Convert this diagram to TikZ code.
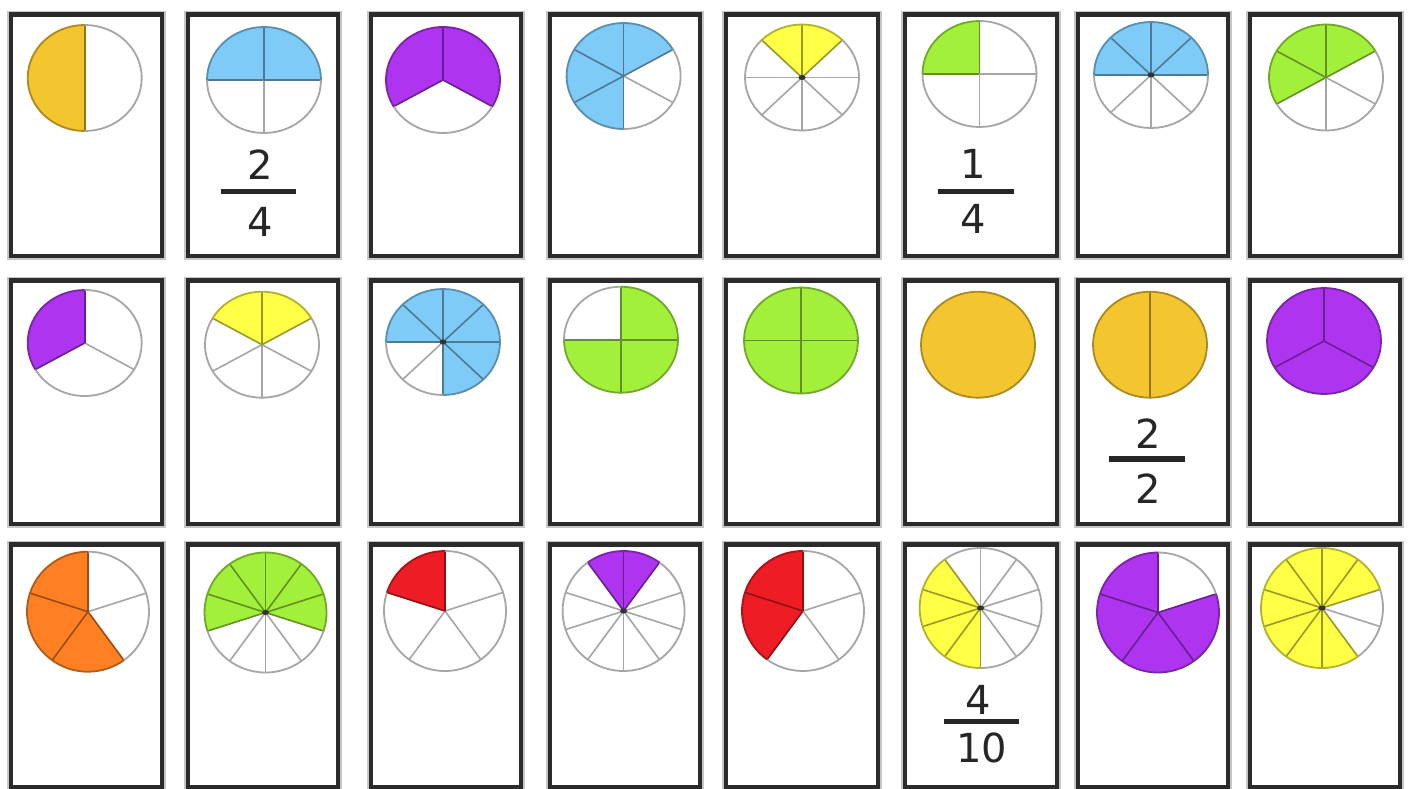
\documentclass[tikz,border=0pt]{standalone}
\usepackage{fontspec}
\newfontfamily\digitfont{DejaVu Sans}
\definecolor{pgold}{HTML}{F3C52F}
\definecolor{pblue}{HTML}{7FCBF7}
\definecolor{ppurple}{HTML}{AE34F0}
\definecolor{pyellow}{HTML}{FFFF45}
\definecolor{pgreen}{HTML}{A3F03A}
\definecolor{porange}{HTML}{FF8022}
\definecolor{pred}{HTML}{EE1C24}
\definecolor{piegray}{HTML}{A6A6A6}
\definecolor{cardline}{HTML}{2B2B2B}
\definecolor{digitc}{HTML}{262626}
\tikzset{
  card/.style={draw=cardline, line width=4.5pt, fill=white, inner sep=0pt,
    preaction={draw=gray!45, line width=7.5pt}},
  pieline/.style={line width=1.6pt, line cap=round},
  pieedge/.style={line width=1.8pt},
  fracnum/.style={inner sep=0pt, text=digitc, font=\digitfont\fontsize{40}{40}\selectfont},
  fracbar/.style={draw=digitc, line width=5.5pt}
}
% #1 cx #2 cy #3 rx #4 ry #5 n #6 base #7 A #8 B #9 colour
\newcommand{\fpie}[9]{%
\begin{scope}[shift={(#1,-#2)}]
  \fill[white] (0,0) ellipse [x radius=#3, y radius=#4];
  \fill[#9] (0,0) -- (#7:#3 and #4) arc[start angle=#7, end angle=#8, x radius=#3, y radius=#4] -- cycle;
  \ifnum#5>1
  \foreach \i in {1,...,#5}{%
    \pgfmathsetmacro\t{#6+360/#5*\i}%
    \pgfmathsetmacro\tt{#7+mod(\t-(#7)+720,360)}%
    \pgfmathtruncatemacro\inside{\tt<=(#8)+0.5 ? 1 : 0}%
    \ifnum\inside=1 \def\lc{#9!60!black}\else\def\lc{piegray}\fi
    \draw[pieline, draw=\lc] (0,0) -- (\t:#3 and #4);
  }
  \fi
  \pgfmathtruncatemacro\partial{(#8)-(#7)<359 ? 1 : 0}%
  \ifnum\partial=1
    \draw[pieedge, piegray] (#8:#3 and #4) arc[start angle=#8, end angle=#7+360, x radius=#3, y radius=#4];
  \fi
  \draw[pieedge, #9!70!black] (#7:#3 and #4) arc[start angle=#7, end angle=#8, x radius=#3, y radius=#4];
  \ifnum#5>7
    \fill[black!80] (0,0) ellipse [x radius=3.5, y radius=2.5];
  \fi
\end{scope}}
\begin{document}
\begin{tikzpicture}[x=1pt,y=1pt]
\useasboundingbox (0,0) rectangle (1410,-789);
\fill[white] (0,0) rectangle (1410,-789);
% cards
\foreach \cx/\cw [count=\ci] in {86.5/151,263/150,446/150,625/150,802/152,981/152,1153/150,1325/150}{
  \foreach \cy/\ch [count=\ri] in {135.25/241.5,402.25/243.5,665.75/242.5}{
    \node[card, minimum width=\cw pt, minimum height=\ch pt] (c\ri\ci) at (\cx,-\cy) {};
  }
}
% row 1
\fpie{84.7}{78}{57}{53}{2}{90}{90}{270}{pgold}
\fpie{264}{80}{57}{53}{4}{0}{0}{180}{pblue}
\fpie{443}{80}{57}{53}{3}{90}{-30}{210}{ppurple}
\fpie{623.6}{76}{57}{53}{6}{90}{30}{270}{pblue}
\fpie{802}{77.5}{57}{53}{8}{0}{45}{135}{pyellow}
\fpie{979.5}{74}{57}{53}{4}{0}{90}{180}{pgreen}
\fpie{1151}{75}{57}{53}{8}{0}{0}{180}{pblue}
\fpie{1326}{77.5}{57}{53}{6}{90}{30}{210}{pgreen}
% row 2
\fpie{84.7}{343}{57}{53}{3}{90}{90}{210}{ppurple}
\fpie{262}{344.7}{57}{53}{6}{90}{30}{150}{pyellow}
\fpie{443}{342}{57}{53}{8}{0}{-90}{180}{pblue}
\fpie{621}{339.7}{57}{53}{4}{0}{180}{450}{pgreen}
\fpie{801}{340.5}{57}{53}{4}{0}{0}{360}{pgreen}
\fpie{978}{344.7}{57}{53}{1}{0}{0}{360}{pgold}
\fpie{1150}{344.7}{57}{53}{2}{90}{0}{360}{pgold}
\fpie{1324}{341}{57}{53}{3}{90}{0}{360}{ppurple}
% row 3
\fpie{88}{611.7}{61}{60}{5}{90}{90}{306}{porange}
\fpie{265.5}{612.5}{61}{60}{10}{90}{-18}{198}{pgreen}
\fpie{445}{611}{61}{60}{5}{90}{90}{162}{pred}
\fpie{623.6}{611}{61}{60}{10}{90}{54}{126}{ppurple}
\fpie{803}{611}{61}{60}{5}{90}{90}{234}{pred}
\fpie{980.6}{608}{61}{60}{10}{90}{126}{270}{pyellow}
\fpie{1158}{612.5}{61}{60}{5}{90}{90}{378}{ppurple}
\fpie{1322}{608}{61}{60}{10}{90}{18}{306}{pyellow}
% fractions
\node[fracnum] (f1n) at (260,-165) {2};
\coordinate (f1a) at (220.5,-191.5); \coordinate (f1b) at (296,-191.5);
\draw[fracbar] (f1a) -- (f1b);
\node[fracnum] (f1d) at (260,-222) {4};

\node[fracnum] (f2n) at (973,-164) {1};
\coordinate (f2a) at (937.7,-191.5); \coordinate (f2b) at (1013.6,-191.5);
\draw[fracbar] (f2a) -- (f2b);
\node[fracnum] (f2d) at (973,-219) {4};

\node[fracnum] (f3n) at (1148,-434) {2};
\coordinate (f3a) at (1109,-459); \coordinate (f3b) at (1185,-459);
\draw[fracbar] (f3a) -- (f3b);
\node[fracnum] (f3d) at (1148,-489) {2};

\node[fracnum] (f4n) at (978.5,-699.5) {4};
\coordinate (f4a) at (943.6,-721.5); \coordinate (f4b) at (1019,-721.5);
\draw[fracbar] (f4a) -- (f4b);
\node[fracnum] (f4d) at (981.5,-748) {10};
\end{tikzpicture}
\end{document}
